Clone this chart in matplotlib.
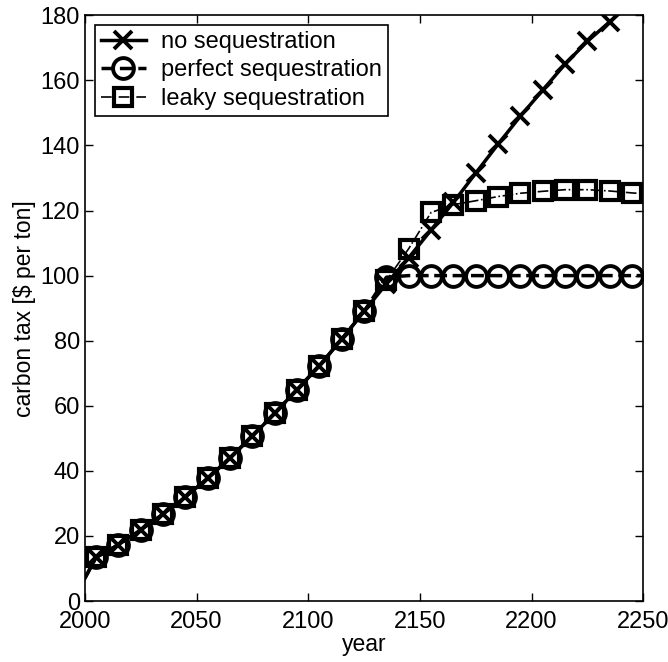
import numpy as np
import matplotlib.pyplot as plt

plt.rcParams['font.family'] = ['Liberation Sans', 'DejaVu Sans']

# line starts at 2000 and ends at 2250, markers every ten years in between
years = [2000] + list(range(2005, 2250, 10)) + [2250]

no_seq = [7, 13.4, 17.3, 21.9, 26.7, 32, 37.7, 44, 50.7, 57.7, 65, 72.3,
          80.5, 89, 97.5, 105.5, 114, 122.5, 131.5, 140.4, 149, 157, 165,
          172, 178, 184, 187]
perfect_seq = [7, 13.4, 17.3, 21.9, 26.7, 32, 37.7, 44, 50.7, 57.7, 65,
               72.3, 80.5, 89, 99.5, 100, 100, 100, 100, 100, 100, 100, 100,
               100, 100, 100, 100]
leaky_seq = [7, 13.4, 17.3, 21.9, 26.7, 32, 37.7, 44, 50.7, 57.7, 65, 72.3,
             80.5, 89, 98.5, 108.3, 119.4, 121.8, 123, 124.3, 125.3, 125.9,
             126.4, 126.4, 126, 125.4, 125.2]

labels = ["no sequestration", "perfect sequestration", "leaky sequestration"]


def main():
    fig = plt.figure(figsize=(6.68, 6.62), dpi=100)
    ax = fig.add_axes([0.127, 0.092, 0.836, 0.885])

    marks = list(range(1, len(years) - 1))
    ax.plot(years, no_seq, color='k', ls='-', lw=2.5, marker='x',
            ms=13, mew=2.8, markevery=marks, label=labels[0])
    ax.plot(years, perfect_seq, color='k', ls='--', lw=2.5, marker='o',
            ms=15, mew=2.8, mfc='none', markevery=marks, label=labels[1])
    ax.plot(years, leaky_seq, color='k', ls='-.', lw=1.2, marker='s',
            ms=12.5, mew=3, mfc='none', markevery=marks, label=labels[2])

    ax.set_xlim(2000, 2250)
    ax.set_ylim(0, 180)
    ax.set_xticks(np.arange(2000, 2251, 50))
    ax.set_yticks(np.arange(0, 181, 20))
    ax.tick_params(direction='in', top=True, right=True, labelsize=17,
                   length=6, width=1)
    ax.tick_params(axis='x', pad=7)
    ax.tick_params(axis='y', pad=3.5)
    for s in ax.spines.values():
        s.set_linewidth(1.2)
    ax.set_xlabel("year", fontsize=16.5, labelpad=0)
    ax.set_ylabel("carbon tax [$ per ton]", fontsize=16.5, labelpad=3)

    leg = ax.legend(loc='upper left', fontsize=17, fancybox=False,
                    edgecolor='k', framealpha=1, handlelength=1.9,
                    handletextpad=0.65, borderaxespad=0.42, labelspacing=0.27,
                    borderpad=0.25)
    leg.get_frame().set_linewidth(1.2)

    fig.savefig("out.png", dpi=100)


if __name__ == "__main__":
    main()
